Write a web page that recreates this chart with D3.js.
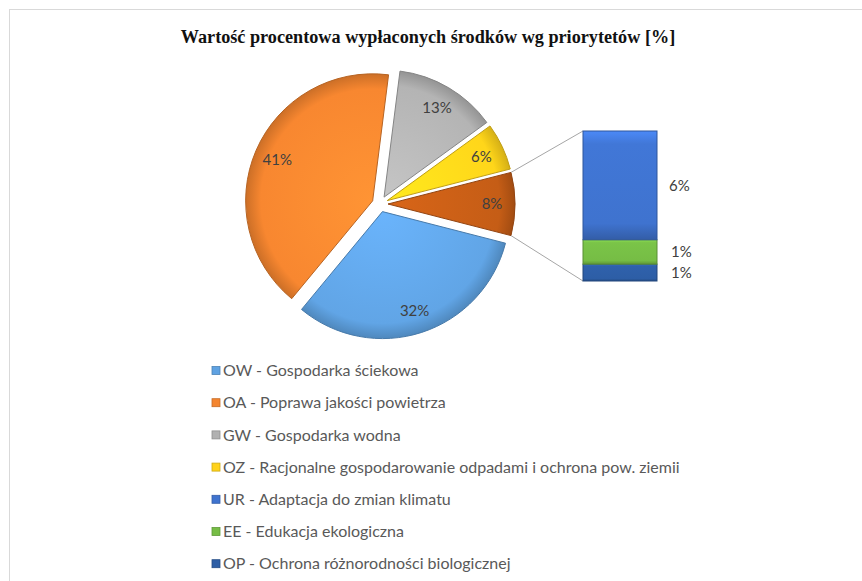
<!DOCTYPE html>
<html lang="pl">
<head>
<meta charset="utf-8">
<title>Wartość procentowa wypłaconych środków wg priorytetów</title>
<script src="https://cdn.jsdelivr.net/npm/d3@7"></script>
<style>
  body { margin:0; background:#ffffff; }
  svg { display:block; }
</style>
</head>
<body>
<script>
// data
var mainCodes = ["OW", "OA", "GW", "OZ"];
var mainValues = [32, 41, 13, 6];
var otherCodes = ["UR", "EE", "OP"];
var otherValues = [5.8, 1.3, 0.9];
var otherLabels = ["6%", "1%", "1%"];
var legendCodes = ["OW", "OA", "GW", "OZ", "UR", "EE", "OP"];
var legendLabels = [
  "OW - Gospodarka ściekowa",
  "OA - Poprawa jakości powietrza",
  "GW - Gospodarka wodna",
  "OZ - Racjonalne gospodarowanie odpadami i ochrona pow. ziemii",
  "UR - Adaptacja do zmian klimatu",
  "EE - Edukacja ekologiczna",
  "OP - Ochrona różnorodności biologicznej"
];
var colors = {
  OW: "#5fa2e2", OA: "#f4852f", GW: "#b1b1b1", OZ: "#ffd21a",
  other: "#c25b16", UR: "#3f73cf", EE: "#76bd45", OP: "#2d5ea6"
};

var width = 862, height = 581;
var cx = 380, cy = 204, r = 127, explode = 8;

var svg = d3.select("body").append("svg")
  .attr("width", width)
  .attr("height", height);

var defs = svg.append("defs");

// chart frame (right and bottom edges run off the picture)
svg.append("rect")
  .attr("x", 9.5).attr("y", 9.5)
  .attr("width", 900).attr("height", 600)
  .attr("fill", "none")
  .attr("stroke", "#d9d9d9");

svg.append("text")
  .attr("x", 428).attr("y", 43)
  .attr("text-anchor", "middle")
  .style("font-family", "'Liberation Serif', serif")
  .style("font-weight", "bold")
  .style("font-size", "18.2px")
  .attr("fill", "#111")
  .text("Wartość procentowa wypłaconych środków wg priorytetów [%]");

// pie: "other" slice is centred on the right (pointing at the bar)
var otherSum = d3.sum(otherValues);
var pieData = [{code: "other", value: otherSum}].concat(
  mainCodes.map(function(c, i) { return {code: c, value: mainValues[i]}; }));
var total = d3.sum(pieData, function(d) { return d.value; });
var otherAngle = otherSum / total * 2 * Math.PI;
var start = Math.PI / 2 - otherAngle / 2;

var pie = d3.pie()
  .sort(null)
  .value(function(d) { return d.value; })
  .startAngle(start)
  .endAngle(start + 2 * Math.PI);

var arcs = pie(pieData);
var arc = d3.arc().innerRadius(0).outerRadius(r);
var labelArc = d3.arc().innerRadius(104).outerRadius(104);

// radial gradients giving the bevelled look
pieData.forEach(function(d) {
  var base = d3.color(colors[d.code]);
  var g = defs.append("radialGradient")
    .attr("id", "g-" + d.code)
    .attr("gradientUnits", "userSpaceOnUse")
    .attr("cx", 0).attr("cy", 0).attr("r", r);
  g.append("stop").attr("offset", "0%").attr("stop-color", base.brighter(0.3));
  g.append("stop").attr("offset", "88%").attr("stop-color", base.brighter(0.05));
  g.append("stop").attr("offset", "100%").attr("stop-color", base.darker(0.5));
});

function offset(d) {
  var a = (d.startAngle + d.endAngle) / 2;
  return [Math.sin(a) * explode, -Math.cos(a) * explode];
}

var slices = svg.append("g")
  .attr("transform", "translate(" + cx + "," + cy + ")")
  .selectAll("g")
  .data(arcs)
  .enter()
  .append("g")
  .attr("transform", function(d) { var o = offset(d); return "translate(" + o[0] + "," + o[1] + ")"; });

slices.append("path")
  .attr("d", arc)
  .attr("fill", function(d) { return "url(#g-" + d.data.code + ")"; })
  .attr("stroke", function(d) { return d3.color(colors[d.data.code]).darker(0.8); })
  .attr("stroke-width", 1);

slices.append("text")
  .attr("transform", function(d) { return "translate(" + labelArc.centroid(d) + ")"; })
  .attr("text-anchor", "middle")
  .attr("dy", "0.35em")
  .style("font-family", "Lato, 'Open Sans', sans-serif")
  .style("font-size", "15px")
  .attr("fill", "#404040")
  .text(function(d) { return Math.round(d.data.value / total * 100) + "%"; });

// bar of "other"
var barX = 583, barW = 74;
var y = d3.scaleLinear().domain([0, otherSum]).range([281, 131]);

var stacked = [];
var acc = 0;
for (var i = otherCodes.length - 1; i >= 0; i--) {
  stacked.push({code: otherCodes[i], label: otherLabels[i], y0: acc, y1: acc + otherValues[i]});
  acc += otherValues[i];
}

// connector lines
var otherArc = arcs[0];
var o = offset(otherArc);
var topPt = [cx + o[0] + Math.sin(otherArc.startAngle) * r, cy + o[1] - Math.cos(otherArc.startAngle) * r];
var botPt = [cx + o[0] + Math.sin(otherArc.endAngle) * r, cy + o[1] - Math.cos(otherArc.endAngle) * r];
svg.append("line")
  .attr("x1", topPt[0]).attr("y1", topPt[1])
  .attr("x2", barX).attr("y2", y(otherSum))
  .attr("stroke", "#a6a6a6").attr("stroke-width", 1);
svg.append("line")
  .attr("x1", botPt[0]).attr("y1", botPt[1])
  .attr("x2", barX).attr("y2", y(0))
  .attr("stroke", "#a6a6a6").attr("stroke-width", 1);

stacked.forEach(function(d) {
  var base = d3.color(colors[d.code]);
  var g = defs.append("linearGradient")
    .attr("id", "b-" + d.code)
    .attr("x1", 0).attr("y1", 0).attr("x2", 0).attr("y2", 1);
  g.append("stop").attr("offset", "0%").attr("stop-color", base.brighter(0.5));
  g.append("stop").attr("offset", "12%").attr("stop-color", base.brighter(0.1));
  g.append("stop").attr("offset", "85%").attr("stop-color", base);
  g.append("stop").attr("offset", "100%").attr("stop-color", base.darker(0.6));
});

svg.append("g").selectAll("rect")
  .data(stacked)
  .enter()
  .append("rect")
  .attr("x", barX)
  .attr("width", barW)
  .attr("y", function(d) { return y(d.y1); })
  .attr("height", function(d) { return y(d.y0) - y(d.y1); })
  .attr("fill", function(d) { return "url(#b-" + d.code + ")"; })
  .attr("stroke", function(d) { return d3.color(colors[d.code]).darker(0.8); })
  .attr("stroke-width", 1);

svg.append("g").selectAll("text")
  .data(stacked)
  .enter()
  .append("text")
  .attr("x", function(d) { return d.label === "6%" ? 669 : 671; })
  .attr("y", function(d) { return (y(d.y0) + y(d.y1)) / 2; })
  .attr("dy", "0.35em")
  .style("font-family", "Lato, 'Open Sans', sans-serif")
  .style("font-size", "15px")
  .attr("fill", "#404040")
  .text(function(d) { return d.label; });

// legend
var legend = svg.append("g").selectAll("g")
  .data(legendCodes)
  .enter()
  .append("g")
  .attr("transform", function(d, i) { return "translate(212," + (370.5 + i * 32.2) + ")"; });

legend.append("rect")
  .attr("x", 0).attr("y", -4)
  .attr("width", 8).attr("height", 8)
  .attr("fill", function(d) { return colors[d]; })
  .attr("stroke", function(d) { return d3.color(colors[d]).darker(0.6); })
  .attr("stroke-width", 0.8);

legend.append("text")
  .attr("x", 11)
  .attr("dy", "0.35em")
  .style("font-family", "Lato, 'Open Sans', sans-serif")
  .style("font-size", "16px")
  .attr("fill", "#595959")
  .text(function(d, i) { return legendLabels[i]; });
</script>
</body>
</html>
